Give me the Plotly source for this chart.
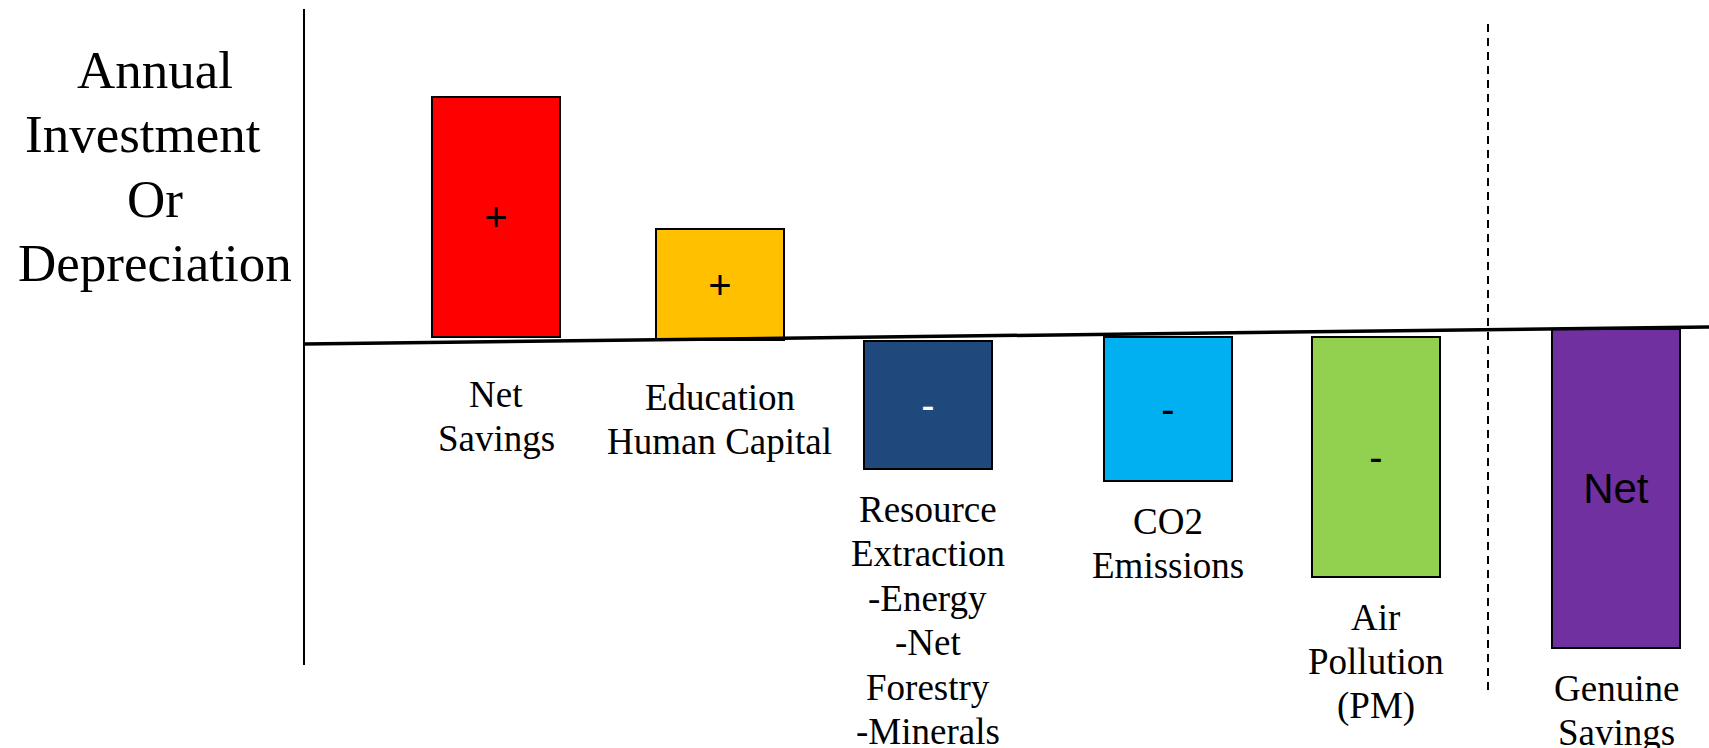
import plotly.graph_objects as go

# Components of genuine savings (conceptual units, positive = investment)
categories = [
    "Net<br>Savings",
    "Education<br>Human Capital",
    "Resource<br>Extraction<br>-Energy<br>-Net<br>Forestry<br>-Minerals",
    "CO2<br>Emissions",
    "Air<br>Pollution<br>(PM)",
    "Genuine<br>Savings",
]
x_pos = [4.96, 7.195, 9.275, 11.68, 13.755, 16.16]
values = [2.40, 1.11, -1.28, -1.44, -2.40, -3.19]
bases = [0.03, 0.00, -0.01, 0.03, 0.03, 0.11]
signs = ["+", "+", "-", "-", "-", "Net"]

title_lines = ["Annual", "Investment", "Or", "Depreciation"]

colors = ["#FF0000", "#FFC000", "#1F497D", "#00B0F0", "#92D050", "#7030A0"]
sign_colors = ["black", "black", "white", "black", "black", "black"]
sign_sizes = [40, 40, 40, 40, 40, 42]

SERIF = "Liberation Serif, Times New Roman, serif"
SANS = "Liberation Sans, Arial, sans-serif"

fig = go.Figure()
fig.add_trace(go.Bar(
    x=x_pos, y=values, base=bases, width=1.28,
    marker=dict(color=colors, line=dict(color="black", width=2)),
    text=signs, textposition="inside", insidetextanchor="middle",
    textangle=0, constraintext="none",
    textfont=dict(family=SANS, color=sign_colors, size=sign_sizes),
    hoverinfo="skip", showlegend=False,
))

# category labels under each bar, one annotation per text line
LABEL_STEP = 0.445
for xc, v, b, lab in zip(x_pos, values, bases, categories):
    low = min(b, b + v)
    first = (b - 0.57) if v > 0 else (low - 0.40)
    for i, line in enumerate(lab.split("<br>")):
        fig.add_annotation(x=xc, y=first - i * LABEL_STEP, text=line,
                           showarrow=False, xanchor="center", yanchor="middle",
                           font=dict(family=SERIF, size=37, color="black"))

# vertical axis
fig.add_shape(type="line", x0=3.04, x1=3.04, y0=-3.25, y1=3.31,
              line=dict(color="black", width=2))
# slightly tilted zero line
fig.add_shape(type="line", x0=3.04, x1=17.09, y0=-0.04, y1=0.13,
              line=dict(color="black", width=3.5), layer="above")
# separator before the net total
fig.add_shape(type="line", x0=14.88, x1=14.88, y0=-3.50, y1=3.16,
              line=dict(color="black", width=2, dash="8px,6px"))

# axis title, stacked lines
for i, line in enumerate(title_lines):
    fig.add_annotation(x=1.55, y=2.70 - i * 0.643, text=line, showarrow=False,
                       xanchor="center", yanchor="middle",
                       xshift=-12 if line == "Investment" else 0,
                       font=dict(family=SERIF, size=53, color="black"))

fig.update_layout(
    width=1709, height=748,
    margin=dict(l=0, r=0, t=0, b=0),
    paper_bgcolor="white", plot_bgcolor="white",
    xaxis=dict(range=[0, 17.09], visible=False, fixedrange=True),
    yaxis=dict(range=[-4.08, 3.40], visible=False, fixedrange=True),
    bargap=0,
)

fig.write_html("out.html")
